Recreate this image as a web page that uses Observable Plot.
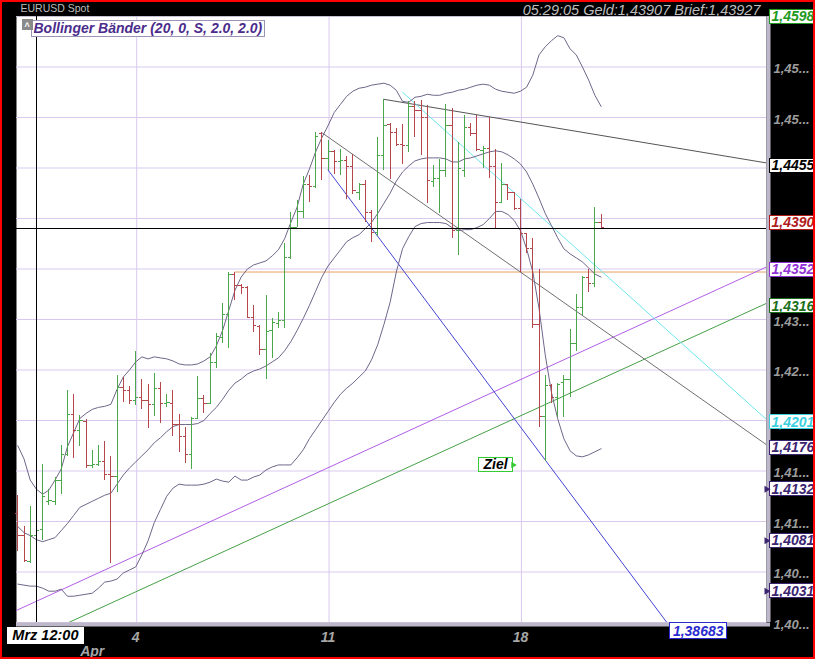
<!DOCTYPE html>
<html>
<head>
<meta charset="utf-8">
<script src="https://cdn.jsdelivr.net/npm/d3@7"></script>
<script src="https://cdn.jsdelivr.net/npm/@observablehq/plot@0.6"></script>
<style>
  html, body { margin: 0; padding: 0; background: #000; }
  #wrap { position: relative; width: 815px; height: 659px; overflow: hidden; background: #000; }
  #border { position: absolute; left: 0; top: 0; width: 815px; height: 659px; box-sizing: border-box; border: 2px solid #ff0000; pointer-events: none; }
</style>
</head>
<body>
<div id="wrap"><div id="chart"></div><div id="border"></div></div>
<script>
// ---------- DATA (EURUSD Spot, 4-hour OHLC bars) ----------
const opens = [1.4108,1.4086,1.4060,1.4086,1.4092,1.4120,1.4120,1.4141,1.4166,1.4206,
  1.4190,1.4199,1.4155,1.4156,1.4159,1.4147,1.4145,1.4233,1.4230,1.4220,
  1.4223,1.4220,1.4216,1.4232,1.4217,1.4217,1.4196,1.4184,1.4166,1.4202,
  1.4222,1.4217,1.4257,1.4282,1.4305,1.4345,1.4334,1.4332,1.4302,1.4293,
  1.4270,1.4289,1.4296,1.4299,1.4361,1.4391,1.4407,1.4434,1.4432,1.4484,
  1.4459,1.4466,1.4456,1.4457,1.4451,1.4426,1.4434,1.4406,1.4386,1.4462,
  1.4493,1.4485,1.4473,1.4472,1.4511,1.4507,1.4500,1.4437,1.4440,1.4448,
  1.4492,1.4388,1.4448,1.4490,1.4484,1.4467,1.4469,1.4451,1.4416,1.4434,
  1.4426,1.4410,1.4385,1.4370,1.4295,1.4204,1.4235,1.4223,1.4238,1.4241,
  1.4276,1.4312,1.4342,1.4336,1.4396];
const highs = [1.4126,1.4095,1.4115,1.4098,1.4156,1.4132,1.4144,1.4175,1.4230,1.4226,
  1.4205,1.4201,1.4170,1.4175,1.4179,1.4164,1.4245,1.4243,1.4234,1.4268,
  1.4241,1.4236,1.4247,1.4238,1.4226,1.4230,1.4206,1.4193,1.4203,1.4244,
  1.4225,1.4266,1.4286,1.4316,1.4347,1.4347,1.4335,1.4333,1.4314,1.4294,
  1.4324,1.4301,1.4307,1.4375,1.4406,1.4418,1.4442,1.4443,1.4485,1.4485,
  1.4477,1.4467,1.4468,1.4461,1.4463,1.4435,1.4438,1.4408,1.4480,1.4518,
  1.4494,1.4489,1.4493,1.4516,1.4516,1.4517,1.4512,1.4452,1.4458,1.4513,
  1.4509,1.4475,1.4502,1.4494,1.4502,1.4471,1.4500,1.4468,1.4454,1.4434,
  1.4426,1.4419,1.4385,1.4380,1.4350,1.4245,1.4236,1.4237,1.4245,1.4290,
  1.4325,1.4343,1.4350,1.4411,1.4404];
const lows = [1.4070,1.4059,1.4058,1.4081,1.4081,1.4116,1.4116,1.4127,1.4164,1.4162,
  1.4174,1.4152,1.4152,1.4154,1.4141,1.4058,1.4129,1.4218,1.4216,1.4215,
  1.4211,1.4192,1.4204,1.4197,1.4213,1.4184,1.4168,1.4157,1.4151,1.4202,
  1.4207,1.4216,1.4251,1.4276,1.4271,1.4319,1.4325,1.4302,1.4287,1.4264,
  1.4241,1.4261,1.4291,1.4291,1.4359,1.4391,1.4400,1.4416,1.4430,1.4438,
  1.4448,1.4444,1.4443,1.4419,1.4424,1.4418,1.4396,1.4376,1.4382,1.4448,
  1.4439,1.4471,1.4453,1.4465,1.4480,1.4462,1.4415,1.4431,1.4405,1.4441,
  1.4380,1.4363,1.4441,1.4481,1.4466,1.4450,1.4440,1.4389,1.4416,1.4418,
  1.4408,1.4347,1.4365,1.4291,1.4193,1.4159,1.4217,1.4203,1.4203,1.4223,
  1.4268,1.4304,1.4327,1.4332,1.4389];
const closes = [1.4086,1.4061,1.4086,1.4091,1.4125,1.4121,1.4141,1.4166,1.4206,1.4190,
  1.4200,1.4155,1.4156,1.4159,1.4147,1.4145,1.4233,1.4230,1.4220,1.4223,
  1.4220,1.4216,1.4232,1.4217,1.4218,1.4196,1.4184,1.4166,1.4202,1.4222,
  1.4217,1.4257,1.4283,1.4305,1.4345,1.4334,1.4332,1.4302,1.4294,1.4270,
  1.4288,1.4297,1.4299,1.4361,1.4391,1.4407,1.4434,1.4432,1.4481,1.4459,
  1.4466,1.4456,1.4457,1.4451,1.4428,1.4434,1.4406,1.4386,1.4462,1.4492,
  1.4485,1.4473,1.4472,1.4511,1.4507,1.4500,1.4438,1.4440,1.4448,1.4492,
  1.4388,1.4450,1.4490,1.4484,1.4468,1.4469,1.4451,1.4416,1.4434,1.4426,
  1.4410,1.4385,1.4370,1.4295,1.4204,1.4235,1.4223,1.4236,1.4241,1.4276,
  1.4312,1.4342,1.4336,1.4396,1.4391];

// Bollinger Bänder (20, 0, S, 2.0, 2.0), read per bar
const bbUpper = [1.4175,1.4162,1.4141,1.4132,1.4127,1.4131,1.4141,1.4152,1.4174,1.4188,
  1.4202,1.4207,1.4211,1.4213,1.4214,1.4216,1.4231,1.4243,1.4250,1.4258,
  1.4263,1.4261,1.4263,1.4262,1.4261,1.4259,1.4256,1.4255,1.4255,1.4256,
  1.4259,1.4263,1.4274,1.4289,1.4309,1.4329,1.4342,1.4350,1.4354,1.4356,
  1.4358,1.4363,1.4369,1.4380,1.4396,1.4411,1.4434,1.4449,1.4466,1.4480,
  1.4492,1.4505,1.4513,1.4521,1.4526,1.4529,1.4530,1.4532,1.4533,1.4534,
  1.4532,1.4527,1.4516,1.4515,1.4520,1.4521,1.4523,1.4522,1.4522,1.4524,
  1.4525,1.4527,1.4528,1.4530,1.4532,1.4533,1.4532,1.4528,1.4526,1.4525,
  1.4524,1.4526,1.4530,1.4542,1.4562,1.4570,1.4576,1.4581,1.4579,1.4568,
  1.4562,1.4550,1.4537,1.4522,1.4511];
const bbMiddle = [1.4095,1.4089,1.4086,1.4082,1.4080,1.4082,1.4084,1.4091,1.4098,1.4106,
  1.4114,1.4117,1.4120,1.4123,1.4126,1.4128,1.4137,1.4146,1.4153,1.4159,
  1.4165,1.4171,1.4178,1.4183,1.4189,1.4194,1.4196,1.4196,1.4196,1.4197,
  1.4200,1.4207,1.4213,1.4221,1.4230,1.4237,1.4241,1.4246,1.4249,1.4251,
  1.4254,1.4258,1.4262,1.4269,1.4278,1.4289,1.4301,1.4314,1.4328,1.4342,
  1.4353,1.4361,1.4369,1.4377,1.4381,1.4384,1.4390,1.4396,1.4405,1.4415,
  1.4425,1.4437,1.4446,1.4452,1.4457,1.4459,1.4460,1.4460,1.4460,1.4459,
  1.4456,1.4456,1.4459,1.4460,1.4462,1.4464,1.4466,1.4467,1.4466,1.4463,
  1.4459,1.4454,1.4446,1.4434,1.4420,1.4405,1.4393,1.4381,1.4370,1.4365,
  1.4361,1.4357,1.4351,1.4345,1.4342];
const bbLower = [1.4038,1.4037,1.4036,1.4036,1.4034,1.4031,1.4031,1.4033,1.4026,1.4026,
  1.4027,1.4028,1.4029,1.4034,1.4040,1.4041,1.4043,1.4049,1.4052,1.4055,
  1.4067,1.4081,1.4099,1.4112,1.4125,1.4133,1.4137,1.4136,1.4136,1.4136,
  1.4137,1.4139,1.4142,1.4140,1.4139,1.4145,1.4141,1.4141,1.4144,1.4146,
  1.4151,1.4154,1.4156,1.4156,1.4156,1.4163,1.4171,1.4182,1.4191,1.4200,
  1.4209,1.4218,1.4226,1.4232,1.4237,1.4243,1.4249,1.4260,1.4275,1.4295,
  1.4317,1.4347,1.4370,1.4382,1.4392,1.4395,1.4396,1.4396,1.4396,1.4395,
  1.4391,1.4388,1.4389,1.4389,1.4391,1.4394,1.4400,1.4407,1.4407,1.4404,
  1.4398,1.4388,1.4370,1.4347,1.4311,1.4265,1.4228,1.4202,1.4182,1.4170,
  1.4165,1.4164,1.4166,1.4169,1.4172];

// axis domain (bar index / price)
const xMin = -0.21, xMax = 120.66;
const yMin = 1.400, yMax = 1.460;

// ticks
const priceTicks = [1.400,1.405,1.410,1.415,1.420,1.425,1.430,1.435,1.440,1.445,1.450,1.455];
const dayTickBars = [19, 50, 81];
const dayTickLabels = ["4", "11", "18"];
const monthTickBar = 12, monthTickLabel = "Apr";

// crosshair
const crossBar = 3, crossPrice = 1.4390, crossTimeLabel = "Mrz 12:00";

// drawn lines [bar, price]
const resistanceLine = [[59, 1.4518], [xMax, 1.4455]];
const channelLine    = [[49, 1.4485], [xMax, 1.4176]];
const targetLine     = [[50, 1.4448], [xMax, 1.38683]];
const cyanLine       = [[62, 1.4525], [xMax, 1.4201]];
const orangeLevel    = [[35, 1.4347], [xMax, 1.4347]];
const purpleLine     = [[xMin, 1.4012], [xMax, 1.4352]];
const greenLine      = [[8.2, 1.4000], [xMax, 1.4316]];

// right-hand price labels
const levelValues = [1.4598, 1.4455, 1.4390, 1.4352, 1.4316, 1.4201, 1.4176, 1.4132, 1.4081, 1.4031];
const levelKinds  = ["top", "line", "cross", "line", "line", "line", "line", "marker", "marker", "marker"];
const targetValueLabel = "1,38683";
const zielLabel = {bar: 77, price: 1.4156, text: "Ziel"};

const headerLeft = "EURUSD Spot";
const headerRight = "05:29:05 Geld:1,43907 Brief:1,43927";
const legendText = "Bollinger Bänder (20, 0, S, 2.0, 2.0)";

// ---------- STYLE ----------
const GREEN = "#4aa84a", RED = "#b4474b", BAND = "#6f6689", GRID = "#d9c9ef";
const levelColors = ["#1e9a1e", "#000000", "#b01c1c", "#9233d6", "#1a701a", "#3ccfe0", "#3b2470", "#3b2470", "#3b2470", "#3b2470"];
const kindDy = {top: -2, line: 3, cross: -6, marker: 0};
const FONT = "'Liberation Sans', Arial, sans-serif";
const bold = {fontWeight: "bold", fontStyle: "italic"};

// ---------- BUILD ----------
const bars = opens.map((open, i) => ({i, open, high: highs[i], low: lows[i], close: closes[i]}));
const bands = bbUpper.map((upper, i) => ({i, upper, middle: bbMiddle[i], lower: bbLower[i]}));
const barColor = d => d.close >= d.open ? GREEN : RED;
const TICK = 0.45;
const comma = (v, n) => v.toFixed(n).replace(".", ",");
const levels = levelValues.map((v, k) => ({value: v, text: comma(v, 4), kind: levelKinds[k], color: levelColors[k]}));
const dayTicks = dayTickBars.map((b, k) => ({bar: b, label: dayTickLabels[k]}));
const targetExitBar = targetLine[0][0] + (targetLine[0][1] - yMin) * (targetLine[1][0] - targetLine[0][0]) / (targetLine[0][1] - targetLine[1][1]);
// axis tick labels that a level box fully hides are not drawn
const visibleTicks = priceTicks.filter(t => !levels.some(l => l.kind !== "marker" && Math.abs(l.value - t) < 0.0012));

const lineMark = (pts, stroke) => Plot.line(pts, {x: d => d[0], y: d => d[1], stroke, strokeWidth: 1, clip: true});

const levelMarks = Object.keys(kindDy).map(kind =>
  Plot.text(levels.filter(d => d.kind === kind), {
    x: () => xMax, y: "value", text: "text", fill: "color", dx: 5, dy: kindDy[kind],
    textAnchor: "start", fontSize: 14, ...bold, className: "boxed-level"
  }));

const plot = Plot.plot({
  width: 815, height: 659,
  marginTop: 16, marginLeft: 16, marginRight: 49, marginBottom: 37,
  x: {domain: [xMin, xMax], axis: null},
  y: {domain: [yMin, yMax], axis: null},
  style: {background: "black", fontFamily: FONT, overflow: "hidden"},
  marks: [
    Plot.frame({fill: "white", stroke: null}),
    Plot.ruleY(priceTicks, {stroke: GRID}),
    Plot.ruleX(dayTickBars, {stroke: GRID, dx: 1}),
    Plot.ruleY([yMax], {stroke: "#c6c2d2"}),
    // drawn lines
    lineMark(orangeLevel, "#e6a066"),
    lineMark(purpleLine, "#b25ee6"),
    lineMark(greenLine, "#46a046"),
    lineMark(channelLine, "#707070"),
    lineMark(resistanceLine, "#555555"),
    lineMark(cyanLine, "#6fe6ee"),
    lineMark(targetLine, "#4444d6"),
    // Bollinger bands
    Plot.line(bands, {x: "i", y: "upper", stroke: BAND, strokeWidth: 1}),
    Plot.line(bands, {x: "i", y: "middle", stroke: BAND, strokeWidth: 1}),
    Plot.line(bands, {x: "i", y: "lower", stroke: BAND, strokeWidth: 1}),
    // OHLC bars
    Plot.ruleX(bars, {x: "i", y1: "low", y2: "high", stroke: barColor, shapeRendering: "crispEdges"}),
    Plot.link(bars, {x1: d => d.i - TICK, x2: "i", y1: "open", y2: "open", stroke: barColor, shapeRendering: "crispEdges"}),
    Plot.link(bars, {x1: "i", x2: d => d.i + TICK, y1: "close", y2: "close", stroke: barColor, shapeRendering: "crispEdges"}),
    // crosshair
    Plot.ruleX([crossBar], {stroke: "black", shapeRendering: "crispEdges"}),
    Plot.ruleY([crossPrice], {stroke: "black", shapeRendering: "crispEdges"}),
    // plot border (right / bottom)
    Plot.ruleX([xMax], {y1: yMin, y2: yMax, stroke: "#bdb8c9", strokeWidth: 4, dx: 2}),
    Plot.ruleY([yMin], {x1: xMin, x2: xMax + 0.65, stroke: "#bdb8c9", strokeWidth: 4, dy: 2}),
    // right axis tick labels (truncated)
    Plot.text(visibleTicks, {x: () => xMax, y: d => d, text: d => comma(d, 3).slice(0, 4) + "...",
      fill: "#9c9c9c", dx: 7, dy: 2, textAnchor: "start", fontSize: 13, ...bold}),
    // bottom axis labels
    Plot.text(dayTicks, {x: "bar", y: () => yMin, text: "label", fill: "#a6a6a6", dy: 15, fontSize: 14, ...bold}),
    Plot.text([monthTickLabel], {x: () => monthTickBar, y: () => yMin, text: d => d, fill: "#a6a6a6", dy: 29, fontSize: 14, ...bold}),
    // level labels with boxes
    ...levelMarks,
    Plot.dot(levels.filter(d => d.kind === "marker"), {x: () => xMax, y: "value", dy: kindDy.marker, symbol: "triangle", r: 2.6, rotate: 90, fill: "#3b2470", stroke: null}),
    Plot.text([targetValueLabel], {x: () => targetExitBar, y: () => yMin, text: d => d, fill: "#2a2ad0", dx: 6, dy: 9,
      textAnchor: "start", fontSize: 14, ...bold, className: "boxed-target"}),
    Plot.text([crossTimeLabel], {x: () => crossBar, y: () => yMin, text: d => d, fill: "black", dx: 9, dy: 13,
      fontSize: 14.5, ...bold, className: "boxed-cross"}),
    // Ziel
    Plot.text([zielLabel], {x: "bar", y: "price", text: "text", fill: "black", fontSize: 14, ...bold, className: "boxed-ziel"}),
    Plot.dot([zielLabel], {x: "bar", y: "price", dx: 17.5, symbol: "triangle", r: 2.4, rotate: 90, fill: "#33cc33", stroke: null}),
    // header and legend
    Plot.text([headerLeft], {frameAnchor: "top-left", dx: 4, dy: -11.5, text: d => d, fill: "#bdbdbd", fontSize: 10.5, textAnchor: "start"}),
    Plot.text([headerRight], {frameAnchor: "top-right", dx: -6, dy: -12, text: d => d, fill: "#bdbdbd", fontSize: 14.5, fontStyle: "italic", textAnchor: "end"}),
    Plot.text([legendText], {frameAnchor: "top-left", dx: 17, dy: 7, text: d => d, fill: "#4b2c8c", fontSize: 14, ...bold, textAnchor: "start", className: "boxed-legend"}),
    Plot.text(["\u02C4"], {frameAnchor: "top-left", dx: 8, dy: 5, text: d => d, fill: "white", fontSize: 9, fontWeight: "bold", className: "boxed-icon"})
  ]
});

document.getElementById("chart").appendChild(plot);

function boxify(svg, cls, {fill = "white", stroke = null, padX = 2, padY = 0, strokeWidth = 1} = {}) {
  svg.querySelectorAll(`g.${cls} text`).forEach(t => {
    const b = t.getBBox();
    const color = stroke || t.getAttribute("fill") || t.parentNode.getAttribute("fill") || "black";
    const r = document.createElementNS("http://www.w3.org/2000/svg", "rect");
    const tr = t.getAttribute("transform");
    if (tr) r.setAttribute("transform", tr);
    r.setAttribute("x", b.x - padX);
    r.setAttribute("y", b.y - padY);
    r.setAttribute("width", b.width + 2 * padX);
    r.setAttribute("height", b.height + 2 * padY);
    r.setAttribute("fill", fill);
    r.setAttribute("stroke", color);
    r.setAttribute("stroke-width", strokeWidth);
    r.setAttribute("shape-rendering", "crispEdges");
    t.parentNode.insertBefore(r, t);
  });
}
boxify(plot, "boxed-level", {padX: 2, padY: -1});
boxify(plot, "boxed-target", {padX: 3, padY: 0});
boxify(plot, "boxed-cross", {stroke: "white", padX: 5, padY: 0});
boxify(plot, "boxed-ziel", {stroke: "#33cc33", padX: 4, padY: -1});
boxify(plot, "boxed-legend", {stroke: "#9d93b5", padX: 2, padY: 0});
boxify(plot, "boxed-icon", {fill: "#8a8a8a", stroke: "#8a8a8a", padX: 2, padY: 0});
</script>
</body>
</html>
